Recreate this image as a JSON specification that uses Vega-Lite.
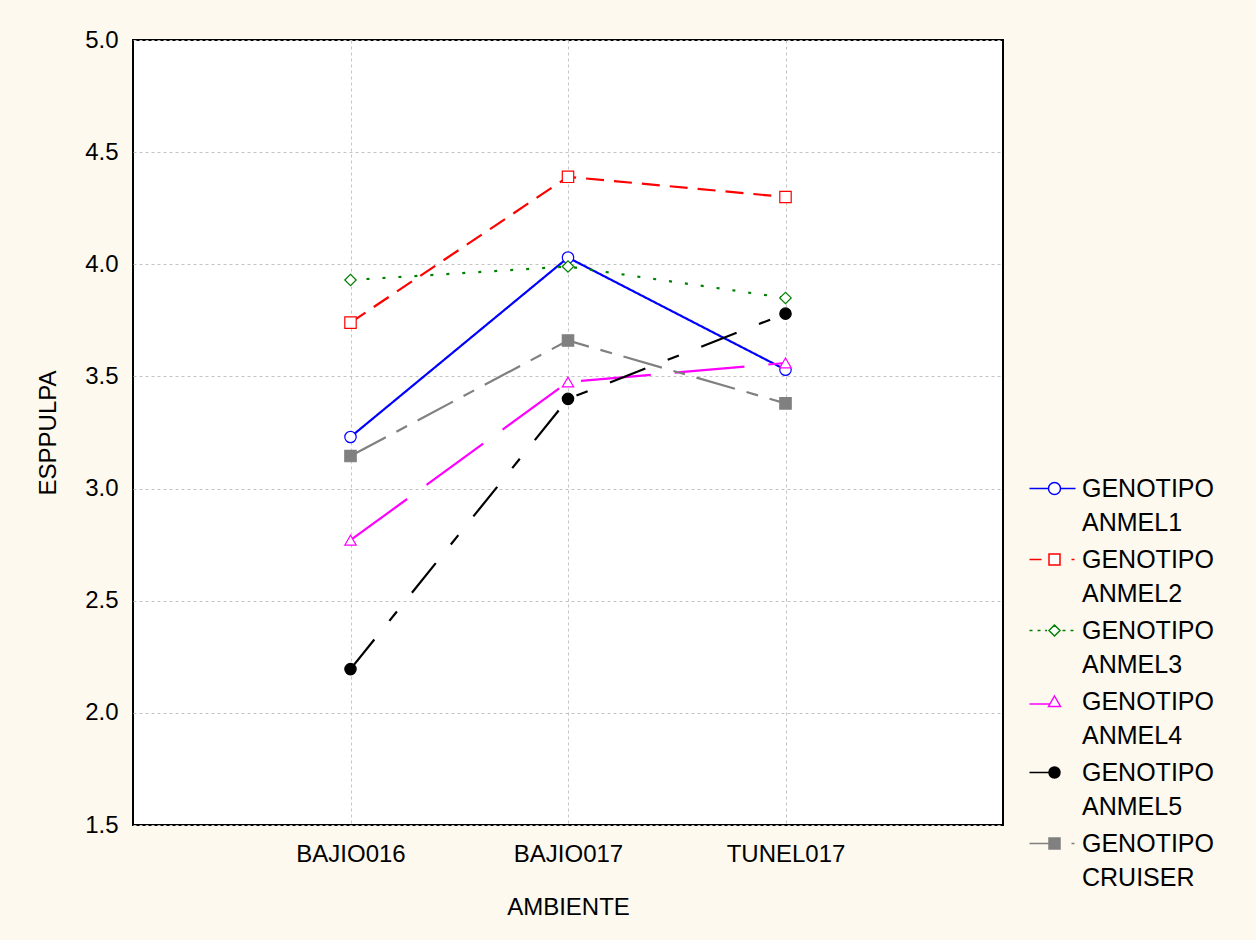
{
  "$schema": "https://vega.github.io/schema/vega-lite/v6.json",
  "width": 870,
  "height": 785,
  "autosize": {"type": "none"},
  "padding": {"left": 133, "top": 40, "right": 253, "bottom": 115},
  "background": "#fdf9ee",
  "config": {
    "font": "Liberation Sans",
    "view": {"fill": "white", "stroke": "black", "strokeWidth": 2},
    "style": {"guide-label": {"lineHeight": 34}},
    "axis": {
      "labelFont": "Liberation Sans",
      "titleFont": "Liberation Sans",
      "labelFontSize": 24,
      "titleFontSize": 24,
      "titleFontWeight": "normal",
      "labelColor": "black",
      "titleColor": "black",
      "ticks": false,
      "domain": false,
      "grid": true,
      "gridDash": [3, 3],
      "gridColor": "#c4c4c4",
      "gridWidth": 1
    },
    "legend": {
      "orient": "none",
      "legendX": 909,
      "legendY": 436,
      "padding": 0,
      "symbolSize": 400,
      "symbolStrokeWidth": 1.5,
      "labelFont": "Liberation Sans",
      "labelFontSize": 25,
      "labelColor": "black",
      "labelBaseline": "middle",
      "labelOffset": 15,
      "labelLimit": 300,
      "rowPadding": 11,
      "title": null
    }
  },
  "data": {
    "values": [
      {"amb": "BAJIO016", "g": "ANMEL1", "v": 3.23},
      {"amb": "BAJIO017", "g": "ANMEL1", "v": 4.03},
      {"amb": "TUNEL017", "g": "ANMEL1", "v": 3.53},
      {"amb": "BAJIO016", "g": "ANMEL2", "v": 3.74},
      {"amb": "BAJIO017", "g": "ANMEL2", "v": 4.39},
      {"amb": "TUNEL017", "g": "ANMEL2", "v": 4.30},
      {"amb": "BAJIO016", "g": "ANMEL3", "v": 3.93},
      {"amb": "BAJIO017", "g": "ANMEL3", "v": 3.99},
      {"amb": "TUNEL017", "g": "ANMEL3", "v": 3.85},
      {"amb": "BAJIO016", "g": "ANMEL4", "v": 2.77},
      {"amb": "BAJIO017", "g": "ANMEL4", "v": 3.475},
      {"amb": "TUNEL017", "g": "ANMEL4", "v": 3.56},
      {"amb": "BAJIO016", "g": "ANMEL5", "v": 2.195},
      {"amb": "BAJIO017", "g": "ANMEL5", "v": 3.40},
      {"amb": "TUNEL017", "g": "ANMEL5", "v": 3.78},
      {"amb": "BAJIO016", "g": "CRUISER", "v": 3.145},
      {"amb": "BAJIO017", "g": "CRUISER", "v": 3.66},
      {"amb": "TUNEL017", "g": "CRUISER", "v": 3.38}
    ]
  },
  "encoding": {
    "x": {
      "field": "amb",
      "type": "ordinal",
      "sort": ["BAJIO016", "BAJIO017", "TUNEL017"],
      "scale": {"type": "point", "padding": 1},
      "axis": {"title": "AMBIENTE", "labelAngle": 0, "labelPadding": 17, "titlePadding": 29}
    },
    "y": {
      "field": "v",
      "type": "quantitative",
      "scale": {"domain": [1.5, 5.0], "nice": false, "zero": false},
      "axis": {
        "title": "ESPPULPA",
        "values": [1.5, 2.0, 2.5, 3.0, 3.5, 4.0, 4.5, 5.0],
        "format": ".1f",
        "labelPadding": 15,
        "titlePadding": 24
      }
    }
  },
  "layer": [
    {
      "mark": {"type": "line", "strokeWidth": 2.2},
      "encoding": {
        "color": {
          "field": "g",
          "type": "nominal",
          "scale": {
            "domain": ["ANMEL1", "ANMEL2", "ANMEL3", "ANMEL4", "ANMEL5", "CRUISER"],
            "range": ["#0000ff", "#ff0000", "#008000", "#ff00ff", "#000000", "#808080"]
          },
          "legend": null
        },
        "strokeDash": {
          "field": "g",
          "type": "nominal",
          "scale": {
            "domain": ["ANMEL1", "ANMEL2", "ANMEL3", "ANMEL4", "ANMEL5", "CRUISER"],
            "range": [[1, 0], [18, 10], [3, 13], [70, 24], [38, 24, 12, 24], [40, 12, 12, 12]]
          },
          "legend": null
        }
      }
    },
    {
      "mark": {"type": "point", "size": 130, "strokeWidth": 1.2, "opacity": 1, "fillOpacity": 1},
      "encoding": {
        "stroke": {
          "field": "g",
          "type": "nominal",
          "scale": {
            "domain": ["ANMEL1", "ANMEL2", "ANMEL3", "ANMEL4", "ANMEL5", "CRUISER"],
            "range": ["#0000ff", "#ff0000", "#008000", "#ff00ff", "#000000", "#808080"]
          },
          "legend": null
        },
        "fill": {
          "field": "g",
          "type": "nominal",
          "scale": {
            "domain": ["ANMEL1", "ANMEL2", "ANMEL3", "ANMEL4", "ANMEL5", "CRUISER"],
            "range": ["#ffffff", "#ffffff", "#ffffff", "#ffffff", "#000000", "#808080"]
          },
          "legend": null
        },
        "shape": {
          "field": "g",
          "type": "nominal",
          "scale": {
            "domain": ["ANMEL1", "ANMEL2", "ANMEL3", "ANMEL4", "ANMEL5", "CRUISER"],
            "range": ["circle", "square", "diamond", "triangle-up", "circle", "square"]
          },
          "legend": null
        }
      }
    },
    {
      "transform": [{"filter": "false"}],
      "mark": {"type": "point", "opacity": 1, "fillOpacity": 1, "filled": true},
      "encoding": {
        "stroke": {
          "field": "g",
          "type": "nominal",
          "scale": {
            "domain": ["ANMEL1", "ANMEL2", "ANMEL3", "ANMEL4", "ANMEL5", "CRUISER"],
            "range": ["#0000ff", "#ff0000", "#008000", "#ff00ff", "#000000", "#808080"]
          },
          "legend": {"labelExpr": "['\u2009GENOTIPO', datum.label]"}
        },
        "fill": {
          "field": "g",
          "type": "nominal",
          "scale": {
            "domain": ["ANMEL1", "ANMEL2", "ANMEL3", "ANMEL4", "ANMEL5", "CRUISER"],
            "range": ["#ffffff", "#ffffff", "#ffffff", "#ffffff", "#000000", "#808080"]
          },
          "legend": {"labelExpr": "['\u2009GENOTIPO', datum.label]"}
        },
        "shape": {
          "field": "g",
          "type": "nominal",
          "scale": {
            "domain": ["ANMEL1", "ANMEL2", "ANMEL3", "ANMEL4", "ANMEL5", "CRUISER"],
            "range": [
              "M-2.5,0H-0.6M0.6,0H2.1M-0.6,0A0.6,0.6,0,1,1,0.6,0A0.6,0.6,0,1,1,-0.6,0Z",
              "M-2.5,0H-1.3M1.7,0H2.0M-0.55,-0.55H0.55V0.55H-0.55Z",
              "M-2.5,0H-2.2M-1.7,0H-1.4M-0.95,0H-0.75M0.8,0H1.1M1.6,0H1.9M-0.55,0L0,-0.55L0.55,0L0,0.55Z",
              "M-2.5,0.25H-0.45M0,-0.55L0.6,0.5H-0.6Z",
              "M-2.5,0H-0.5M-0.55,0A0.55,0.55,0,1,1,0.55,0A0.55,0.55,0,1,1,-0.55,0Z",
              "M-2.5,0H-0.5M1.7,0H2.0M-0.55,-0.55H0.55V0.55H-0.55Z"
            ]
          },
          "legend": {"labelExpr": "['\u2009GENOTIPO', datum.label]"}
        }
      }
    }
  ],
  "resolve": {"scale": {"shape": "independent", "stroke": "independent", "fill": "independent"}}
}
